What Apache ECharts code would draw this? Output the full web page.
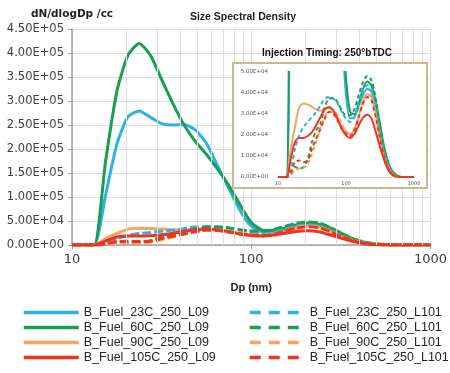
<!DOCTYPE html>
<html>
<head>
<meta charset="utf-8">
<script src="https://cdn.jsdelivr.net/npm/echarts@6/dist/echarts.min.js"></script>
<style>
  html, body { margin: 0; padding: 0; background: #fff; }
  #chart { width: 450px; height: 373px; }
</style>
</head>
<body>
<div id="chart"></div>
<script>
// particle diameter bins (nm)
const dp = [10, 11.5, 13.3, 15.4, 17.8, 20.5, 23.7, 27.4, 31.6, 36.5, 42.2, 48.7, 56.2, 64.9, 75.0, 86.6,
  100, 115.5, 133.4, 154.0, 177.8, 205.4, 237.1, 273.8, 316.2, 365.2, 421.7, 487.0, 562.3, 649.4, 750.0, 866.0, 1000];

// dN/dlogDp per cc
const fuel23L09 = [0, 0, 0, 104000, 210000, 267000, 279000, 266000, 253000, 250000, 251000, 240000, 212000, 165000, 118000, 72000,
  39000, 28000, 28500, 34000, 39000, 42000, 40500, 33000, 22000, 12000, 5500, 1800, 500, 0, 0, 0, 0];
const fuel60L09 = [0, 0, 0, 175000, 320000, 395000, 420000, 395000, 345000, 295000, 250000, 216000, 189000, 158000, 124000, 84000,
  47000, 31000, 30000, 35000, 42000, 45500, 43500, 36000, 25000, 14000, 6500, 2500, 800, 0, 0, 0, 0];
const fuel90L09 = [0, 0, 0, 13500, 24000, 33000, 35000, 34500, 33500, 32000, 31500, 32500, 33000, 31000, 27500, 24000,
  21500, 20500, 23000, 29000, 36000, 39500, 38000, 30000, 19000, 10000, 4500, 1500, 500, 0, 0, 0, 0];
const fuel105L09 = [0, 0, 0, 8700, 16700, 18600, 18600, 19500, 21400, 24600, 28600, 32200, 33300, 31800, 27800, 23000,
  19800, 18600, 20600, 24600, 28300, 29700, 27800, 21400, 14300, 7900, 3200, 800, 200, 0, 0, 0, 0];
const fuel23L101 = [0, 0, 0, 4000, 13500, 19800, 23800, 26200, 28600, 31000, 34100, 37300, 38100, 37300, 35000, 31000,
  27800, 26200, 28600, 35700, 41300, 43700, 42000, 34100, 22200, 11900, 5600, 1600, 400, 0, 0, 0, 0];
const fuel60L101 = [0, 0, 0, 1600, 4800, 4000, 4800, 8700, 16700, 22200, 25400, 33300, 37300, 37600, 35700, 31800,
  29400, 29400, 32500, 38900, 45200, 48100, 46000, 37300, 24600, 13500, 6300, 2400, 800, 0, 0, 0, 0];
const fuel90L101 = [0, 0, 0, 800, 3200, 4000, 4300, 6300, 11100, 16700, 23800, 28600, 31000, 31000, 29400, 25400,
  21400, 19000, 22200, 29400, 36500, 39700, 38100, 30200, 19000, 10300, 4800, 1600, 400, 0, 0, 0, 0];
const fuel105L101 = [0, 0, 0, 2400, 7100, 7900, 7100, 7900, 13500, 18300, 23000, 27800, 31000, 30200, 27000, 23000,
  20600, 19500, 22200, 28600, 35000, 38100, 36500, 28600, 18300, 9500, 4000, 1100, 300, 0, 0, 0, 0];

const namesL09 = ['B_Fuel_23C_250_L09', 'B_Fuel_60C_250_L09', 'B_Fuel_90C_250_L09', 'B_Fuel_105C_250_L09'];
const namesL101 = ['B_Fuel_23C_250_L101', 'B_Fuel_60C_250_L101', 'B_Fuel_90C_250_L101', 'B_Fuel_105C_250_L101'];
const minorGridX = [20, 30, 40, 50, 60, 70, 80, 90, 200, 300, 400, 500, 600, 700, 800, 900];

const BLUE = '#2bb3e6', GREEN = '#1a9f52', ORANGE = '#f7a55e', RED = '#f0341f';

// draw order: red solid last so it sits on top like in the original
const lines = [
  { name: namesL09[0], data: fuel23L09, color: BLUE, dashed: false },
  { name: namesL09[1], data: fuel60L09, color: GREEN, dashed: false },
  { name: namesL09[2], data: fuel90L09, color: ORANGE, dashed: false },
  { name: namesL101[0], data: fuel23L101, color: BLUE, dashed: true },
  { name: namesL101[1], data: fuel60L101, color: GREEN, dashed: true },
  { name: namesL101[2], data: fuel90L101, color: ORANGE, dashed: true },
  { name: namesL101[3], data: fuel105L101, color: RED, dashed: true },
  { name: namesL09[3], data: fuel105L09, color: RED, dashed: false }
];

function sci(v) {
  const s = v.toExponential(2).toUpperCase();
  return s.replace(/E([+-])(\d)$/, (m, sign, d) => 'E' + sign + '0' + d);
}

let series = [];

// vertical minor grid of the log axis
series.push({
  type: 'line',
  data: [],
  z: 1,
  silent: true,
  markLine: {
    silent: true,
    symbol: 'none',
    label: { show: false },
    lineStyle: { color: '#dedede', type: 'solid', width: 1 },
    data: minorGridX.map(v => ({ xAxis: v }))
  }
});

for (let l of lines) {
  series.push({
    name: l.name,
    type: 'line',
    xAxisIndex: 0,
    yAxisIndex: 0,
    data: dp.map((d, i) => [d, l.data[i]]),
    symbol: 'none',
    smooth: 0.2,
    z: 2,
    lineStyle: { color: l.color, width: 3, type: l.dashed ? [9, 3] : 'solid' },
    itemStyle: { color: l.color }
  });
}

// inset
for (let l of lines) {
  series.push({
    name: l.name,
    type: 'line',
    xAxisIndex: 1,
    yAxisIndex: 1,
    data: dp.map((d, i) => [d, l.data[i]]),
    symbol: 'none',
    smooth: 0.3,
    z: 30,
    lineStyle: { color: l.color, width: 2, type: l.dashed ? [4, 3] : 'solid' },
    itemStyle: { color: l.color }
  });
}

const legendBase = {
  orient: 'vertical', top: 301,
  itemWidth: 55, itemHeight: 14, itemGap: 2,
  itemStyle: { opacity: 0 },
  textStyle: { fontFamily: 'Liberation Sans', fontSize: 12.5, color: '#262626' }
};

const option = {
  animation: false,
  backgroundColor: '#fff',
  grid: [
    { left: 72, right: 11, top: 29, bottom: 128 },
    { left: 278, width: 136, top: 72, height: 105, z: 20 }
  ],
  xAxis: [
    {
      type: 'log', logBase: 10, min: 10, max: 1000, gridIndex: 0,
      name: 'Dp (nm)', nameLocation: 'middle', nameGap: 37,
      nameTextStyle: { fontFamily: 'Liberation Sans', fontWeight: 'bold', fontSize: 11, color: '#222' },
      axisLine: { lineStyle: { color: '#a0a0a0', width: 1.5 } },
      axisTick: { show: true, length: 4, lineStyle: { color: '#a0a0a0' } },
      axisLabel: { formatter: v => String(Math.round(v)), fontFamily: 'DejaVu Sans', fontSize: 13, color: '#404040', margin: 8 },
      splitLine: { show: true, lineStyle: { color: '#dedede' } }
    },
    {
      type: 'log', logBase: 10, min: 10, max: 1000, gridIndex: 1, z: 20,
      axisLine: { lineStyle: { color: '#cfcfcf', width: 1 } },
      axisTick: { show: false },
      axisLabel: { formatter: v => String(Math.round(v)), fontFamily: 'DejaVu Sans', fontSize: 5, color: '#555', margin: 4 },
      splitLine: { show: false }
    }
  ],
  yAxis: [
    {
      type: 'value', min: 0, max: 450000, interval: 50000, gridIndex: 0,
      name: 'dN/dlogDp /cc', nameLocation: 'end', nameGap: 9,
      nameTextStyle: { fontFamily: 'DejaVu Sans', fontWeight: 'bold', fontSize: 10.5, color: '#222' },
      axisLine: { show: true, lineStyle: { color: '#a0a0a0', width: 1.5 } },
      axisTick: { show: true, length: 4, lineStyle: { color: '#a0a0a0' } },
      axisLabel: { formatter: sci, fontFamily: 'DejaVu Sans', fontSize: 11.5, color: '#404040' },
      splitLine: { show: true, lineStyle: { color: '#dedede' } }
    },
    {
      type: 'value', min: 0, max: 50000, interval: 10000, gridIndex: 1, z: 20,
      axisLine: { show: false },
      axisTick: { show: false },
      axisLabel: { formatter: sci, fontFamily: 'DejaVu Sans', fontSize: 5.5, color: '#555', margin: 10 },
      splitLine: { show: false }
    }
  ],
  legend: [
    Object.assign({}, legendBase, { data: namesL09, left: 17, lineStyle: { width: 3.5 } }),
    Object.assign({}, legendBase, { data: namesL101, left: 243, lineStyle: { width: 3.5, type: [11, 8] } })
  ],
  graphic: {
    elements: [
      {
        type: 'rect', z: 10, silent: true,
        shape: { x: 233, y: 63, width: 194, height: 125 },
        style: { fill: '#fff', stroke: '#c9b98f', lineWidth: 2 }
      },
      {
        type: 'text', z: 10, x: 327, y: 53,
        style: {
          text: 'Injection Timing: 250°bTDC', textAlign: 'center', textVerticalAlign: 'middle',
          font: 'bold 10px "Liberation Sans"', fill: '#111'
        }
      },
      {
        type: 'text', z: 10, x: 243, y: 17,
        style: {
          text: 'Size Spectral Density', textAlign: 'center', textVerticalAlign: 'middle',
          font: 'bold 10.5px "Liberation Sans"', fill: '#222'
        }
      }
    ]
  },
  series: series
};

const chart = echarts.init(document.getElementById('chart'));
chart.setOption(option);
</script>
</body>
</html>
